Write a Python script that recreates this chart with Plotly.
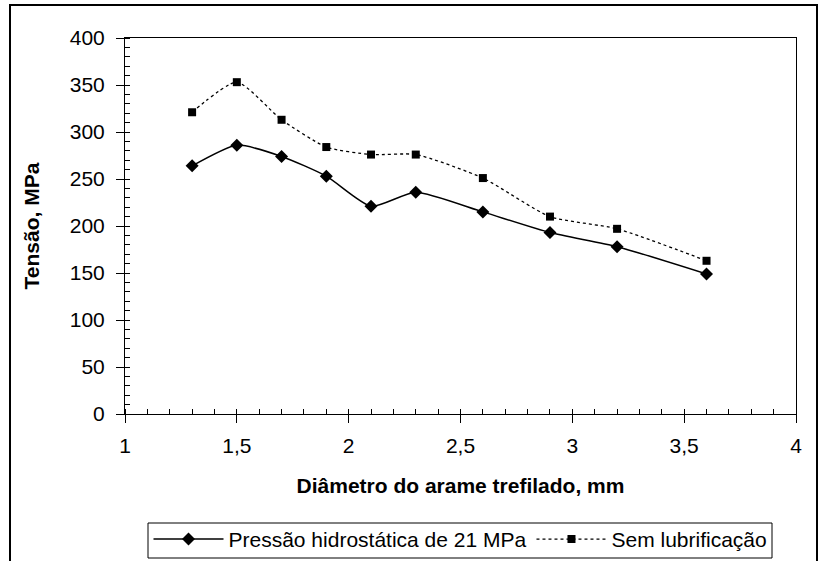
import plotly.graph_objects as go

diametro = [1.3, 1.5, 1.7, 1.9, 2.1, 2.3, 2.6, 2.9, 3.2, 3.6]
pressao_21 = [264, 286, 274, 253, 221, 236, 215, 193, 178, 149]
sem_lub = [321, 353, 313, 284, 276, 276, 251, 210, 197, 163]

nome1 = "Pressão hidrostática de 21 MPa"
nome2 = "Sem lubrificação"

fig = go.Figure()
fig.add_trace(go.Scatter(
    x=diametro, y=pressao_21, name=nome1, mode="lines+markers",
    line=dict(color="black", width=1.5, shape="spline", smoothing=0.6),
    marker=dict(symbol="diamond", size=10, color="black")))
fig.add_trace(go.Scatter(
    x=diametro, y=sem_lub, name=nome2, mode="lines+markers",
    line=dict(color="black", width=1.3, dash="dot", shape="spline", smoothing=0.6),
    marker=dict(symbol="square", size=8, color="black")))

font_name = "Liberation Sans, Arial, sans-serif"
fs = 21

fig.update_layout(
    width=818, height=561,
    margin=dict(l=125, r=22, t=38, b=147, autoexpand=False),
    paper_bgcolor="white", plot_bgcolor="white",
    separators=", ",
    font=dict(family=font_name, size=fs, color="black"),
    showlegend=True,
    legend=dict(orientation="h", x=0.5, xanchor="center", y=-0.279, yanchor="top",
                bgcolor="rgba(0,0,0,0)", borderwidth=0, font=dict(size=fs),
                itemwidth=70, tracegroupgap=0),
    xaxis=dict(range=[1, 4], dtick=0.5, tick0=1, showgrid=False, zeroline=False,
               showline=True, linecolor="black", linewidth=1, mirror=True,
               ticks="outside", ticklen=8, tickcolor="black", ticklabelstandoff=5,
               minor=dict(dtick=0.1, ticks="inside", ticklen=5, tickcolor="black"),
               tickfont=dict(size=fs),
               title=dict(text="<b>Diâmetro do arame trefilado, mm</b>", font=dict(size=fs), standoff=22)),
    yaxis=dict(range=[0, 400], dtick=50, showgrid=False, zeroline=False,
               showline=True, linecolor="black", linewidth=1, mirror=True,
               ticks="outside", ticklen=8, tickcolor="black", ticklabelstandoff=7,
               minor=dict(dtick=10, ticks="inside", ticklen=5, tickcolor="black"),
               tickfont=dict(size=fs),
               title=dict(text="<b>Tensão, MPa</b>", font=dict(size=fs), standoff=24)),
)

# outer chart frame
fig.add_shape(type="rect", xref="paper", yref="paper",
              x0=(10 - 125) / 671, x1=(817 - 125) / 671,
              y0=(414 - 575) / 376, y1=(414 - 5) / 376,
              line=dict(color="black", width=2), fillcolor="rgba(0,0,0,0)", layer="below")
# legend frame
fig.add_shape(type="rect", xref="paper", yref="paper",
              x0=(148 - 125) / 671, x1=(772 - 125) / 671,
              y0=(414 - 558) / 376, y1=(414 - 523) / 376,
              line=dict(color="black", width=1), fillcolor="rgba(0,0,0,0)", layer="below")

fig.write_html("out.html", config={"displayModeBar": False},
               post_script="document.body.style.margin='0';document.body.style.overflow='hidden';")
